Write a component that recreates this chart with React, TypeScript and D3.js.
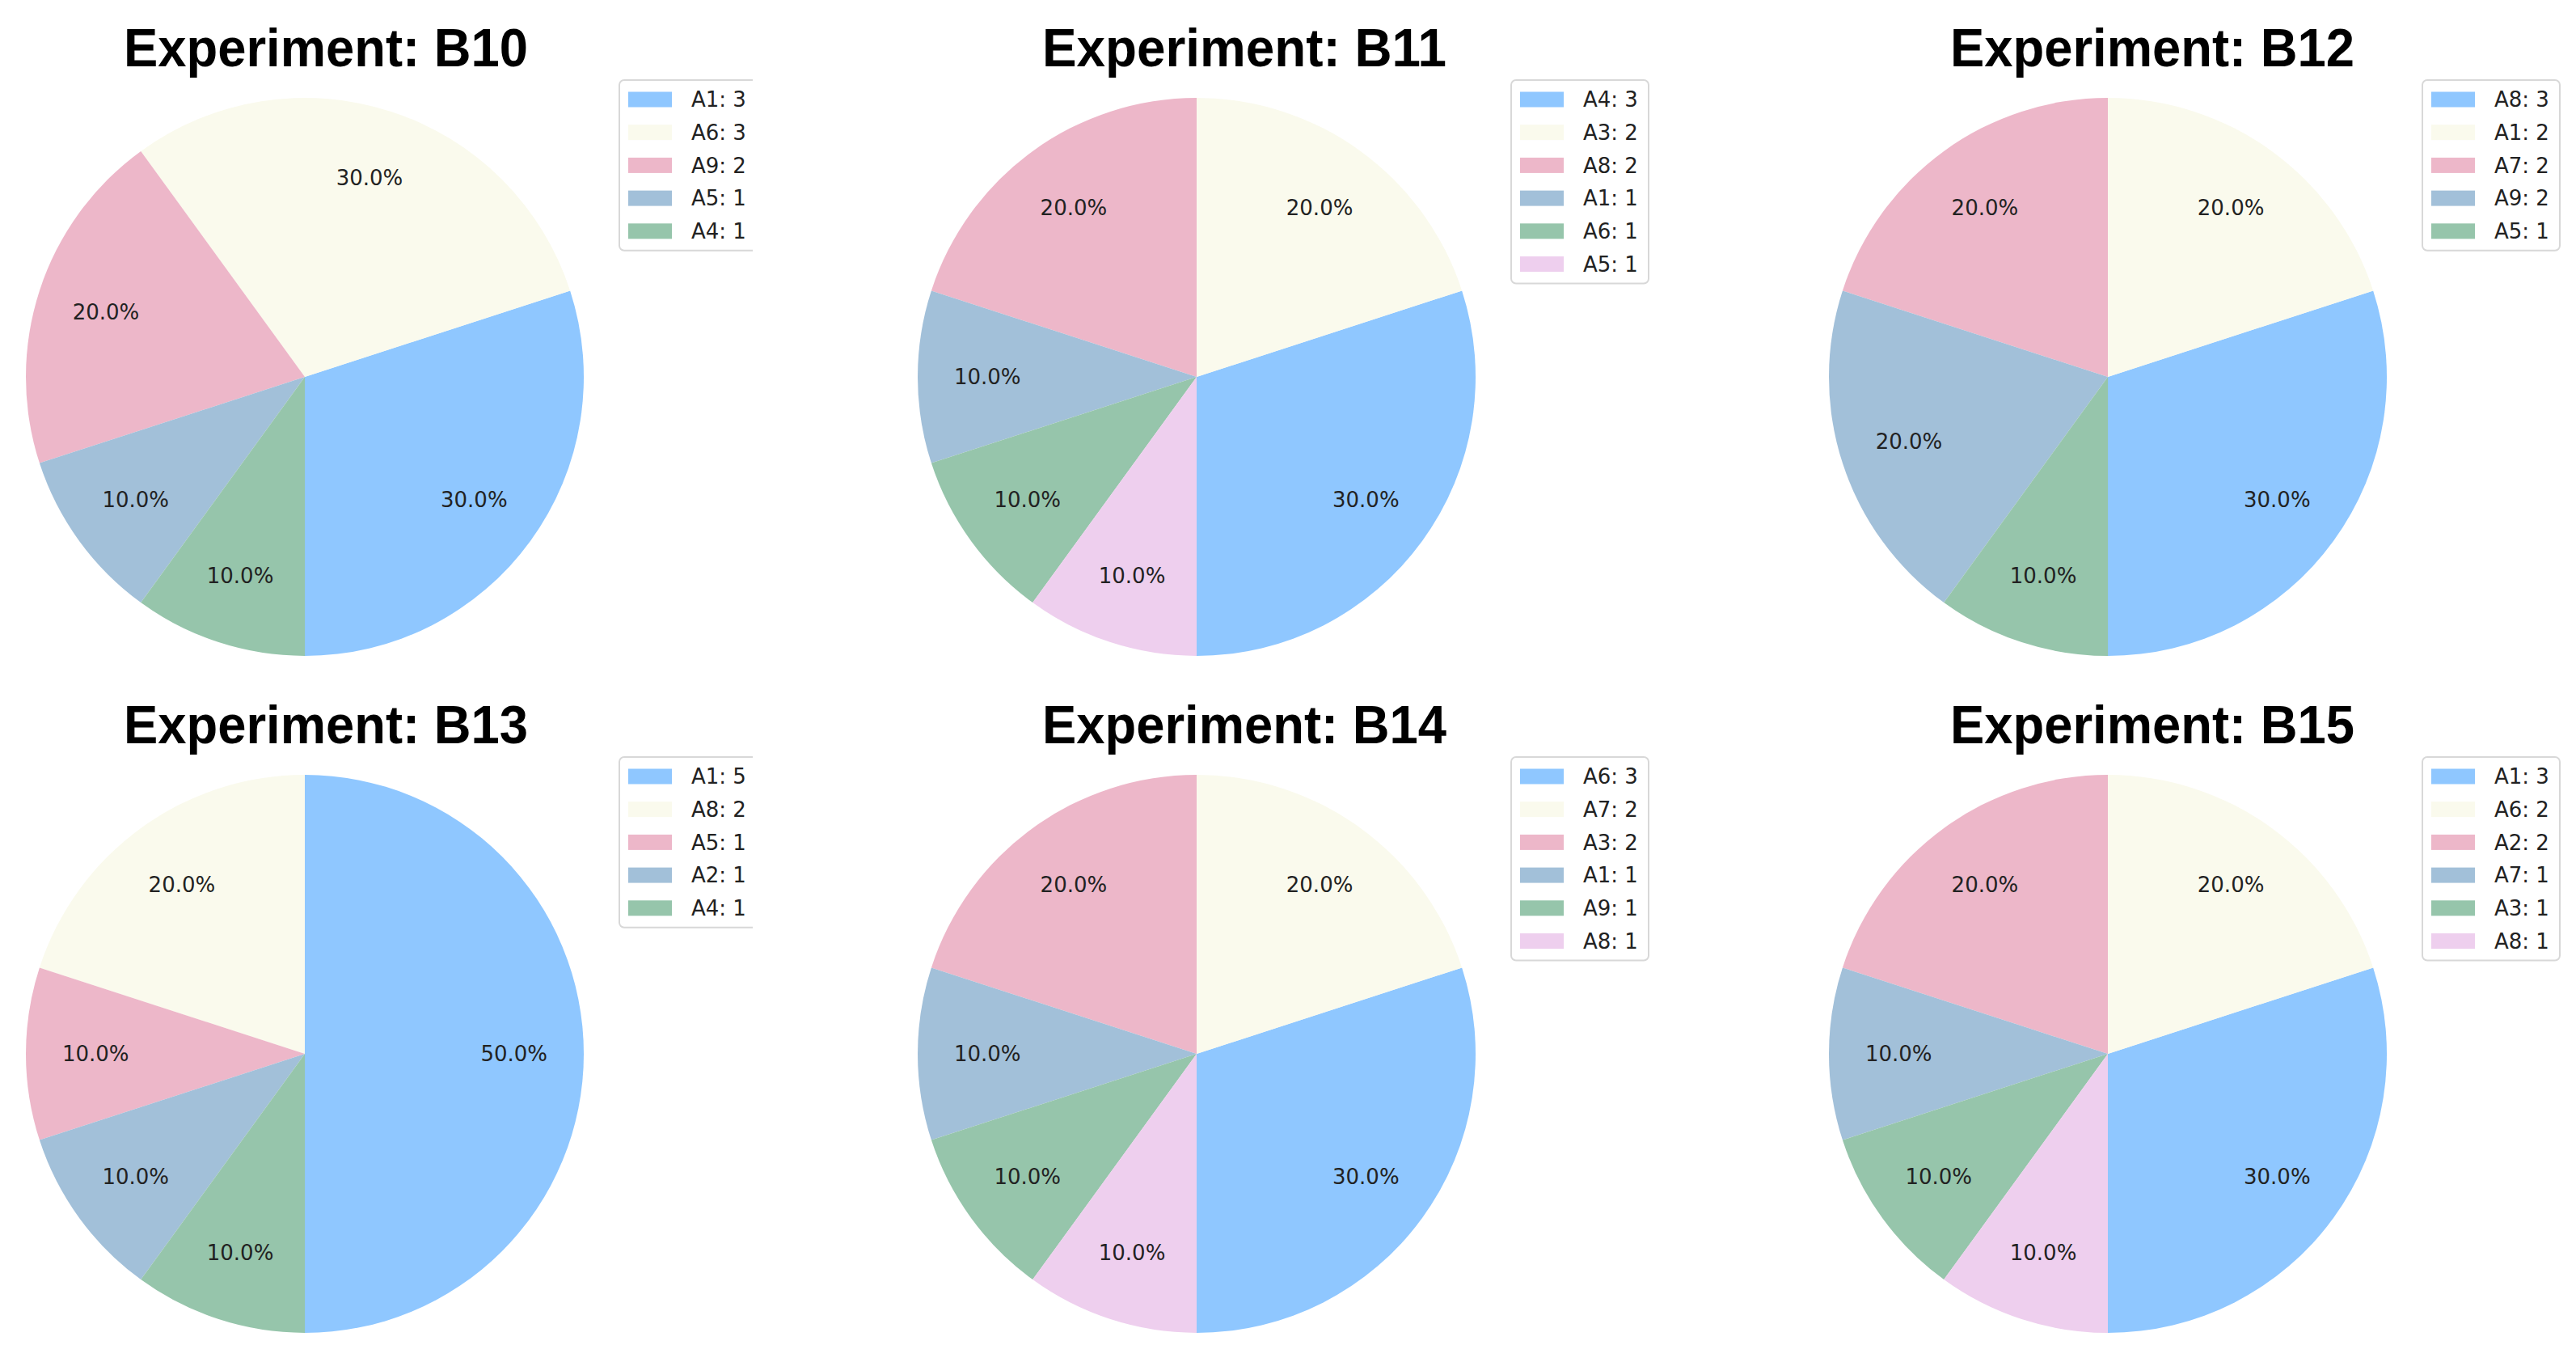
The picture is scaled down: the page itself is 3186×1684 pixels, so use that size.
import React from 'react';
import * as d3 from 'd3';

// experiment data
const b10Labels = ['A1', 'A6', 'A9', 'A5', 'A4'];
const b10Values = [3, 3, 2, 1, 1];
const b11Labels = ['A4', 'A3', 'A8', 'A1', 'A6', 'A5'];
const b11Values = [3, 2, 2, 1, 1, 1];
const b12Labels = ['A8', 'A1', 'A7', 'A9', 'A5'];
const b12Values = [3, 2, 2, 2, 1];
const b13Labels = ['A1', 'A8', 'A5', 'A2', 'A4'];
const b13Values = [5, 2, 1, 1, 1];
const b14Labels = ['A6', 'A7', 'A3', 'A1', 'A9', 'A8'];
const b14Values = [3, 2, 2, 1, 1, 1];
const b15Labels = ['A1', 'A6', 'A2', 'A7', 'A3', 'A8'];
const b15Values = [3, 2, 2, 1, 1, 1];

const experiments = ['B10', 'B11', 'B12', 'B13', 'B14', 'B15'];
const labelSets = [b10Labels, b11Labels, b12Labels, b13Labels, b14Labels, b15Labels];
const valueSets = [b10Values, b11Values, b12Values, b13Values, b14Values, b15Values];

// dodgerblue, beige, palevioletred, steelblue, seagreen, plum at alpha .5 on white
const PALETTE = ['#8fc7ff', '#fafaed', '#edb7c9', '#a2c0d9', '#96c5ab', '#eecfee'];

const W = 3186;
const H = 1684;
const COL_X = [377, 1480, 2607];
const ROW_Y = [466, 1303];
const TITLE_X = [403, 1539, 2662];
const R = 345;

interface PieProps {
  title: string;
  labels: string[];
  values: number[];
  cx: number;
  cy: number;
  tx: number;
  clipLegend: boolean;
  id: string;
}

const Pie: React.FC<PieProps> = ({ title, labels, values, cx, cy, tx, clipLegend, id }) => {
  const data = labels.map((l, i) => ({ label: l, value: values[i] }));
  const total = d3.sum(values);
  // matplotlib startangle=-90, counterclockwise
  const pie = d3.pie<{ label: string; value: number }>()
    .value(d => d.value)
    .sort(null)
    .startAngle(Math.PI)
    .endAngle(-Math.PI);
  const arcs = pie(data);
  const arc = d3.arc<d3.PieArcDatum<{ label: string; value: number }>>()
    .innerRadius(0)
    .outerRadius(R);
  const labelArc = d3.arc<d3.PieArcDatum<{ label: string; value: number }>>()
    .innerRadius(R * 0.75)
    .outerRadius(R * 0.75);

  const color = d3.scaleOrdinal<string, string>().domain(labels).range(PALETTE);

  const lx = cx + 389;
  const ly = cy - 367;
  const rowH = 40.7;
  const boxW = 170;
  const boxH = 48 + (labels.length - 1) * rowH;

  return (
    <g>
      <text x={tx} y={cy - 384} textAnchor="middle" fontFamily="Liberation Sans, Arial, sans-serif"
        fontWeight="bold" fontSize={66} textLength={500} lengthAdjust="spacingAndGlyphs" fill="#000">
        {`Experiment: ${title}`}
      </text>
      <g transform={`translate(${cx},${cy})`}>
        {arcs.map((a, i) => (
          <path key={i} d={arc(a) || ''} fill={color(a.data.label)} />
        ))}
        {arcs.map((a, i) => {
          const [x, y] = labelArc.centroid(a);
          return (
            <text key={'t' + i} x={x} y={y} dy="0.35em" textAnchor="middle"
              fontFamily="DejaVu Sans, sans-serif" fontSize={26} fill="#222">
              {`${((a.data.value / total) * 100).toFixed(1)}%`}
            </text>
          );
        })}
      </g>
      <defs>
        <clipPath id={`clip-${id}`}>
          <rect x={lx - 4} y={ly - 4} width={clipLegend ? 169 : boxW + 8} height={boxH + 8} />
        </clipPath>
      </defs>
      <g clipPath={`url(#clip-${id})`}>
        <rect x={lx} y={ly} width={boxW} height={boxH} rx={6} fill="#fff" fillOpacity={0.8}
          stroke="#d8d8d8" strokeWidth={2} />
        {labels.map((l, i) => {
          const yy = ly + 24 + i * rowH;
          return (
            <g key={l}>
              <rect x={lx + 11} y={yy - 9.5} width={54} height={19} fill={color(l)} />
              <text x={lx + 89} y={yy} dy="0.36em" fontFamily="DejaVu Sans, sans-serif"
                fontSize={26} fill="#222">
                {`${l}: ${values[i]}`}
              </text>
            </g>
          );
        })}
      </g>
    </g>
  );
};

export default function App() {
  return (
    <svg width={W} height={H} style={{ position: 'absolute', left: 0, top: 0, background: '#fff' }}>
      <rect width={W} height={H} fill="#fff" />
      {experiments.map((e, i) => {
        const col = i % 3;
        const row = Math.floor(i / 3);
        return (
          <Pie key={e} id={e} title={e} labels={labelSets[i]} values={valueSets[i]}
            cx={COL_X[col]} cy={ROW_Y[row]} tx={TITLE_X[col]} clipLegend={col === 0} />
        );
      })}
    </svg>
  );
}
